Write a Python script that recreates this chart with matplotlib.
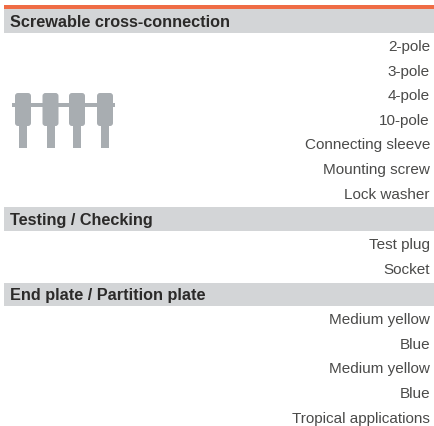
import matplotlib.pyplot as plt
from matplotlib.patches import Rectangle, FancyBboxPatch

W, H = 434, 427

section_titles = ['Screwable cross-connection', 'Testing / Checking', 'End plate / Partition plate']
section_rows = [
    ['2-pole', '3-pole', '4-pole', '10-pole', 'Connecting sleeve', 'Mounting screw', 'Lock washer'],
    ['Test plug', 'Socket'],
    ['Medium yellow', 'Blue', 'Medium yellow', 'Blue', 'Tropical applications'],
]
pin_centers = [23, 50.5, 77, 105]

plt.rcParams['font.family'] = ['Liberation Sans', 'DejaVu Sans']

fig = plt.figure(figsize=(W / 100, H / 100), dpi=100)
ax = fig.add_axes([0, 0, 1, 1])
ax.set_xlim(0, W)
ax.set_ylim(H, 0)
ax.axis('off')

# orange strip on top of the first header
ax.add_patch(Rectangle((4, 6), W - 4, 4, fc='#ef6c45', ec='none'))

row_h = 24.6
y = 22
for title, rows in zip(section_titles, section_rows):
    # grey header band
    ax.add_patch(Rectangle((4, y - 11.7), W - 4, 23.4, fc='#d3d5d7', ec='none'))
    ax.text(10, y - 1, title, fontsize=11.7, fontweight='bold', color='#2b2a29', ha='left', va='center_baseline')
    y += 25.5 - row_h
    for label in rows:
        y += row_h
        ax.text(430, y - 2, label, fontsize=11, color='#4a4a49', ha='right', va='center_baseline')
    y += 25

# connector icon
ax.add_patch(Rectangle((12, 104), 103, 4, fc='#a8adb1', ec='none'))
for cx in pin_centers:
    ax.add_patch(FancyBboxPatch((cx - 8, 94), 16, 33, boxstyle='round,pad=0,rounding_size=3', fc='#a8adb1', ec='none'))
    ax.add_patch(Rectangle((cx - 4, 127), 8, 22, fc='#a8adb1', ec='none'))

fig.savefig('out.png', dpi=100, facecolor='white')
